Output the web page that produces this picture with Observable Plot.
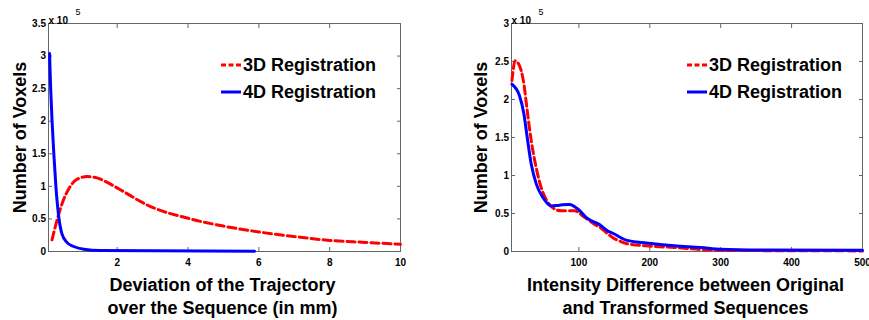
<!DOCTYPE html>
<html><head><meta charset="utf-8">
<script src="https://cdn.jsdelivr.net/npm/d3@7"></script>
<script src="https://cdn.jsdelivr.net/npm/@observablehq/plot@0.6"></script>
<style>
body{margin:0;background:#fff;font-family:"Liberation Sans",Arial,Helvetica,sans-serif;}
#wrap{position:relative;width:869px;height:320px;overflow:hidden;background:#fff;}
.panel{position:absolute;top:0;}
.leg{position:absolute;line-height:18px;font-size:18px;font-weight:bold;white-space:nowrap;color:#000;}
.leg svg{vertical-align:top;margin-right:2px;}
</style></head><body>
<div id="wrap"></div>
<script>
// ---- data (values in units of 10^5 voxels) ----
const seriesNames = ["3D Registration", "4D Registration"];
const seriesColors = ["#ff0000", "#0000ff"];

// Left panel: deviation of trajectory (mm)
const leftX3D = [0.16, 0.30, 0.44, 0.63, 0.87, 1.15, 1.43, 1.72, 2.05, 2.94, 4, 5, 6, 7, 8, 9, 10];
const leftY3D = [0.18, 0.48, 0.73, 0.96, 1.11, 1.15, 1.13, 1.06, 0.96, 0.69, 0.51, 0.39, 0.30, 0.23, 0.17, 0.14, 0.11];
const leftX4D = [0.09, 0.12, 0.16, 0.21, 0.27, 0.35, 0.44, 0.58, 0.77, 1.06, 1.53, 3, 5.88];
const leftY4D = [3.04, 2.52, 2.01, 1.50, 0.99, 0.53, 0.27, 0.14, 0.077, 0.035, 0.015, 0.01, 0.005];
const leftXTicks = [2, 4, 6, 8, 10];
const leftYTicks = [0, 0.5, 1, 1.5, 2, 2.5, 3, 3.5];
const leftXLabel = "Deviation of the Trajectory\nover the Sequence (in mm)";

// Right panel: intensity difference
const rightX3D = [5.6, 10.3, 18.7, 22.5, 27.2, 32.8, 39.9, 46.9, 56.3, 65.6, 75, 93.8, 108, 122, 131, 141, 150, 157, 166.6, 202, 234.6, 272, 300, 400, 500];
const rightY3D = [2.25, 2.51, 2.38, 2.20, 1.85, 1.46, 1.10, 0.84, 0.645, 0.56, 0.535, 0.535, 0.45, 0.36, 0.31, 0.23, 0.17, 0.14, 0.105, 0.07, 0.053, 0.026, 0.015, 0.01, 0.008];
const rightX4D = [5.6, 16.3, 22.5, 27.2, 32.8, 39.9, 49.3, 61, 72.7, 86.8, 98.6, 112.7, 128, 140.8, 150, 166.6, 202, 234.6, 272, 300, 357, 500];
const rightY4D = [2.20, 2.05, 1.81, 1.50, 1.15, 0.89, 0.71, 0.60, 0.61, 0.62, 0.56, 0.43, 0.36, 0.27, 0.23, 0.15, 0.105, 0.075, 0.053, 0.03, 0.02, 0.015];
const rightXTicks = [100, 200, 300, 400, 500];
const rightYTicks = [0, 0.5, 1, 1.5, 2, 2.5, 3];
const rightXLabel = "Intensity Difference between Original\nand Transformed Sequences";

const yLabel = "Number of Voxels";
const expLabel = "x 10";
const expPower = "5";

const toPts = (xs, ys) => xs.map((x, i) => ({x, y: ys[i]}));

function panel({width, marginLeft, marginRight, xDomain, yDomain, xTicks, yTicks, x3, y3, x4, y4, xLabel, xlDx, ylDx}) {
  const font = "Liberation Sans, Arial, sans-serif";
  const tickColor = "#666";
  return Plot.plot({
    width, height: 320,
    marginLeft, marginRight, marginTop: 23, marginBottom: 69,
    style: {fontFamily: font, background: "transparent", overflow: "visible"},
    x: {domain: xDomain},
    y: {domain: yDomain},
    marks: [
      Plot.frame({stroke: tickColor, strokeWidth: 1}),
      // inward ticks on all four sides
      Plot.axisX(xTicks, {anchor: "bottom", tickSize: -4, stroke: tickColor, tickFormat: () => "", label: null}),
      Plot.axisX(xTicks, {anchor: "top", tickSize: -4, stroke: tickColor, tickFormat: () => "", label: null}),
      Plot.axisY(yTicks, {anchor: "left", tickSize: -4, stroke: tickColor, tickFormat: () => "", label: null}),
      Plot.axisY(yTicks, {anchor: "right", tickSize: -4, stroke: tickColor, tickFormat: () => "", label: null}),
      // tick labels
      Plot.axisX(xTicks, {anchor: "bottom", tickSize: 0, tickPadding: 7, tickFormat: d => String(d), fontSize: 10, fontWeight: "bold", fill: "#000", label: null}),
      Plot.axisY(yTicks, {anchor: "left", tickSize: 0, tickPadding: 2.5, tickFormat: d => String(d), fontSize: 10, fontWeight: "bold", fill: "#000", label: null}),
      // data
      Plot.line(toPts(x3, y3), {x: "x", y: "y", stroke: seriesColors[0], strokeWidth: 3, strokeDasharray: "8,4", curve: "monotone-x"}),
      Plot.line(toPts(x4, y4), {x: "x", y: "y", stroke: seriesColors[1], strokeWidth: 3, curve: "monotone-x"}),
      // labels
      Plot.text([yLabel], {frameAnchor: "left", textAnchor: "middle", lineAnchor: "middle", rotate: -90, dx: ylDx, fontSize: 18, fontWeight: "bold", fill: "#000"}),
      Plot.text([xLabel], {frameAnchor: "bottom", lineAnchor: "top", dy: 23, dx: xlDx, lineHeight: 1.28, fontSize: 18, fontWeight: "bold", fill: "#000"}),
      Plot.text([expLabel], {frameAnchor: "top-left", textAnchor: "start", dy: -7, dx: 0, fontSize: 10, fontWeight: "bold", fill: "#000"}),
      Plot.text([expPower], {frameAnchor: "top-left", textAnchor: "start", dy: -15, dx: 27, fontSize: 9, fill: "#000"})
    ]
  });
}

const wrap = document.getElementById("wrap");

const left = panel({width: 430, marginLeft: 48, marginRight: 30, xDomain: [0.06, 10], yDomain: [0, 3.5],
  xTicks: leftXTicks, yTicks: leftYTicks, x3: leftX3D, y3: leftY3D, x4: leftX4D, y4: leftY4D,
  xLabel: leftXLabel, xlDx: -2, ylDx: -28});
left.classList.add("panel"); left.style.left = "0px";
wrap.appendChild(left);

const right = panel({width: 439, marginLeft: 81, marginRight: 7, xDomain: [5, 500], yDomain: [0, 3],
  xTicks: rightXTicks, yTicks: rightYTicks, x3: rightX3D, y3: rightY3D, x4: rightX4D, y4: rightY4D,
  xLabel: rightXLabel, xlDx: -1.5, ylDx: -30});
right.classList.add("panel"); right.style.left = "430px";
wrap.appendChild(right);

function legend(lx, tops) {
  seriesNames.forEach((name, i) => {
    const d = document.createElement("div");
    d.className = "leg";
    d.style.left = lx + "px";
    d.style.top = tops[i] + "px";
    const dash = i === 0 ? 'stroke-dasharray="5,2.5"' : "";
    d.innerHTML = `<svg width="20" height="18"><line x1="0" x2="20" y1="9" y2="9" stroke="${seriesColors[i]}" stroke-width="3" ${dash}/></svg><span>${name}</span>`;
    wrap.appendChild(d);
  });
}
legend(221, [56, 82.5]);
legend(687, [56, 82.5]);
</script>
</body></html>
